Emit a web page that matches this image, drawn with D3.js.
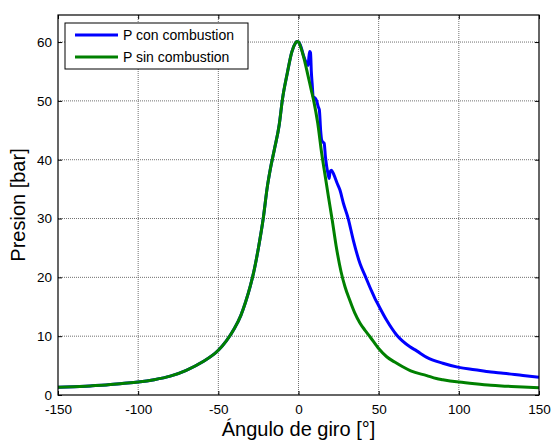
<!DOCTYPE html>
<html>
<head>
<meta charset="utf-8">
<script src="https://cdn.jsdelivr.net/npm/d3@7"></script>
<style>
  html, body { margin: 0; padding: 0; background: #ffffff; }
  svg { display: block; }
  text { font-family: "Liberation Sans", Arial, sans-serif; fill: #000; }
</style>
</head>
<body>
<svg id="chart" width="553" height="442"></svg>
<script>
// ---------- data ----------
const seriesNames = ["P con combustion", "P sin combustion"];
const seriesColors = ["#0000ff", "#008000"];

const angleCon = [-150, -140, -130, -120, -110, -100, -90, -80, -70, -60, -50, -45, -40, -36, -33, -30, -28, -25, -22, -19.5, -17.5, -15, -12, -10, -7, -4.2, -2, -1, 0,
  2, 3, 5, 6, 6.5, 7, 7.5, 8, 8.5, 9.2, 10.3, 11.3, 12.3, 13, 13.8, 14.5, 15.2, 16, 16.8, 17.6, 18.5, 19.2, 19.6, 20.5, 21.7, 23, 23.8, 25.9, 28, 31, 34.2, 38.4, 41.5, 45.7, 47.7, 49.8, 55, 61.2, 69.5, 73.7, 80, 90, 100, 110, 120, 127.7, 140, 150];
const presCon = [1.3, 1.4, 1.55, 1.7, 1.95, 2.2, 2.6, 3.2, 4.2, 5.6, 7.6, 9.2, 11.3, 13.5, 15.8, 18.6, 20.8, 25, 30, 35.3, 38.5, 41.8, 46, 50.3, 54.7, 58.3, 59.8, 60.1, 60,
  58.8, 57.8, 56.4, 56, 57.5, 58.4, 58.2, 55, 53, 50.7, 50.5, 50, 49, 48.5, 45, 43.3, 43, 42.8, 40.5, 38.8, 37.5, 36.8, 37.9, 38.2, 37.7, 36.8, 36.2, 34.8, 32.6, 30, 26.3, 22.3, 20.3, 17.6, 16.4, 15.3, 12.7, 10.2, 8.2, 7.5, 6.4, 5.4, 4.7, 4.3, 3.9, 3.7, 3.3, 3.0];

const angleSin = [-150, -140, -130, -120, -110, -100, -90, -80, -70, -60, -50, -45, -40, -36, -33, -30, -28, -25, -22, -19.5, -17.5, -15, -12, -10, -7, -4.2, -2, -1, 0,
  2, 4, 6, 8, 9.5, 12, 14.5, 16.5, 18.5, 21, 23.5, 26.5, 29, 32, 35, 38.4, 41.5, 44.6, 50, 55, 60, 65, 70, 80, 86, 90, 100, 110, 120, 130, 140, 150];
const presSin = [1.3, 1.4, 1.55, 1.7, 1.95, 2.2, 2.6, 3.2, 4.2, 5.6, 7.6, 9.2, 11.3, 13.5, 15.8, 18.6, 20.8, 25, 30, 35.3, 38.5, 41.8, 46, 50.3, 54.7, 58.3, 59.8, 60.1, 60,
  58.6, 56.6, 54.2, 51.8, 50, 46.2, 41, 37.5, 34, 29.8, 25.3, 21, 18.4, 16.1, 14, 12.2, 11, 9.9, 7.9, 6.5, 5.6, 4.8, 4.1, 3.3, 2.8, 2.6, 2.2, 1.9, 1.65, 1.5, 1.35, 1.25];

const xTicks = [-150, -100, -50, 0, 50, 100, 150];
const yTicks = [0, 10, 20, 30, 40, 50, 60];
const xLabel = "Ángulo de giro [°]";
const yLabel = "Presion [bar]";

// ---------- layout ----------
const svg = d3.select("#chart");
const pL = 58, pR = 539, pT = 15, pB = 395;

const x = d3.scaleLinear().domain([-150, 150]).range([pL, pR]);
const y = d3.scaleLinear().domain([0, 64.6]).range([pB, pT]);

// grid
const grid = svg.append("g");
grid.selectAll("line.vx").data(xTicks.slice(1, -1)).enter().append("line")
  .attr("x1", d => x(d)).attr("x2", d => x(d)).attr("y1", pT).attr("y2", pB)
  .attr("stroke", "#707070").attr("stroke-width", 1).attr("stroke-dasharray", "1,1");
grid.selectAll("line.hy").data(yTicks.slice(1)).enter().append("line")
  .attr("x1", pL).attr("x2", pR).attr("y1", d => y(d)).attr("y2", d => y(d))
  .attr("stroke", "#707070").attr("stroke-width", 1).attr("stroke-dasharray", "1,1");

// lines
const line = d3.line().x(d => x(d[0])).y(d => y(d[1])).curve(d3.curveMonotoneX);
const dataCon = angleCon.map((a, i) => [a, presCon[i]]);
const dataSin = angleSin.map((a, i) => [a, presSin[i]]);

svg.append("clipPath").attr("id", "clip").append("rect")
  .attr("x", pL).attr("y", pT).attr("width", pR - pL).attr("height", pB - pT);

const plot = svg.append("g").attr("clip-path", "url(#clip)");
plot.append("path").datum(dataCon).attr("d", line)
  .attr("fill", "none").attr("stroke", seriesColors[0]).attr("stroke-width", 3).attr("stroke-linejoin", "round");
plot.append("path").datum(dataSin).attr("d", line)
  .attr("fill", "none").attr("stroke", seriesColors[1]).attr("stroke-width", 3).attr("stroke-linejoin", "round");

// axes (ticks inward, labels)
const fmt = d => String(d);
const xAxis = d3.axisBottom(x).tickValues(xTicks).tickSize(-4).tickPadding(9).tickFormat(fmt);
const yAxis = d3.axisLeft(y).tickValues(yTicks).tickSize(-4).tickPadding(6).tickFormat(fmt);
const xTop = d3.axisTop(x).tickValues(xTicks).tickSize(-4).tickFormat("");
const yRight = d3.axisRight(y).tickValues(yTicks).tickSize(-4).tickFormat("");

function styleAxis(g) {
  g.select(".domain").remove();
  g.selectAll(".tick line").attr("stroke", "#000");
  g.selectAll(".tick text").attr("font-size", "13.5px").attr("font-family", "'Liberation Sans', Arial, sans-serif").attr("fill", "#000");
}
svg.append("g").attr("transform", `translate(0,${pB})`).call(xAxis).call(styleAxis);
svg.append("g").attr("transform", `translate(${pL},0)`).call(yAxis).call(styleAxis);
svg.append("g").attr("transform", `translate(0,${pT})`).call(xTop).call(styleAxis);
svg.append("g").attr("transform", `translate(${pR},0)`).call(yRight).call(styleAxis);

// box
svg.append("rect").attr("x", pL).attr("y", pT).attr("width", pR - pL).attr("height", pB - pT)
  .attr("fill", "none").attr("stroke", "#000").attr("stroke-width", 1.2);

// axis labels
svg.append("text").attr("x", (pL + pR) / 2).attr("y", 436).attr("text-anchor", "middle")
  .attr("font-size", "20px").text(xLabel);
svg.append("text").attr("transform", `translate(25,${(pT + pB) / 2}) rotate(-90)`).attr("text-anchor", "middle")
  .attr("font-size", "20px").text(yLabel);

// legend
const lg = svg.append("g");
lg.append("rect").attr("x", 65).attr("y", 23).attr("width", 183).attr("height", 46)
  .attr("fill", "#fff").attr("stroke", "#000").attr("stroke-width", 1);
seriesNames.forEach((name, i) => {
  const yy = 35 + i * 22;
  lg.append("line").attr("x1", 75).attr("x2", 118).attr("y1", yy).attr("y2", yy)
    .attr("stroke", seriesColors[i]).attr("stroke-width", 3);
  lg.append("text").attr("x", 123).attr("y", yy + 5).attr("font-size", "14px").text(name);
});
</script>
</body>
</html>
